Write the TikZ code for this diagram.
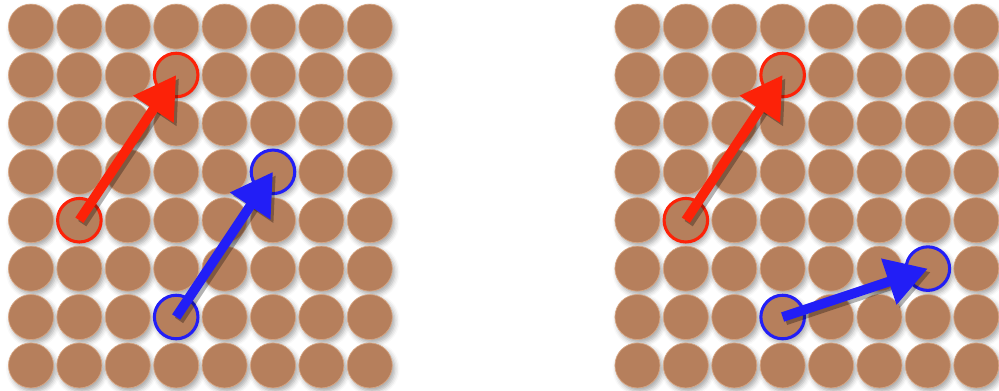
\documentclass[tikz,border=0pt]{standalone}
\usetikzlibrary{arrows.meta, shadows.blur, positioning}
\definecolor{beadbrown}{RGB}{182,127,92}
\definecolor{beadrim}{RGB}{215,165,130}
\definecolor{movered}{RGB}{252,34,8}
\definecolor{moveblue}{RGB}{34,30,246}

\tikzset{
    bead/.style={circle, minimum size=0.93cm, inner sep=0pt, fill=beadbrown, draw=beadrim, line width=0.4pt,
        blur shadow={shadow xshift=0.05cm, shadow yshift=-0.07cm, shadow opacity=35, shadow blur radius=0.1cm}},
    ring/.style={circle, minimum size=0.9cm, inner sep=0pt, draw, line width=1.8pt},
    move/.style={line width=0.2cm, -{Triangle[length=0.85cm, width=0.95cm]}},
}

\begin{document}
\begin{tikzpicture}
        \useasboundingbox (0,0) rectangle (20.64,8.06);

        % Beads (both lattices)
        \foreach \k in {7,6,...,0} {
            \foreach \i in {0,...,7} {
                \node[bead] (L-\i-\k) at (0.64+\i, 0.51+\k) {};
                \node[bead] (R-\i-\k) at (13.17+\i, 0.51+\k) {};
            }
        }

        % Marked beads
        \node[ring, movered] (lredstart) at (L-1-3) {};
        \node[ring, movered] (lredend) at (L-3-6) {};
        \node[ring, moveblue] (lbluestart) at (L-3-1) {};
        \node[ring, moveblue] (lblueend) at (L-5-4) {};

        \node[ring, movered] (rredstart) at (R-1-3) {};
        \node[ring, movered] (rredend) at (R-3-6) {};
        \node[ring, moveblue] (rbluestart) at (R-3-1) {};
        \node[ring, moveblue] (rblueend) at (R-6-2) {};

        % Moves
        \foreach \a/\b/\c in {lredstart/lredend/movered, lbluestart/lblueend/moveblue,
                              rredstart/rredend/movered, rbluestart/rblueend/moveblue} {
            \draw[move, black, opacity=0.3] ([shift={(0.06,-0.07)}]\a.center) -- ([shift={(0.06,-0.07)}]\b.center);
            \draw[move, \c] (\a.center) -- (\b.center);
        }
\end{tikzpicture}
\end{document}
